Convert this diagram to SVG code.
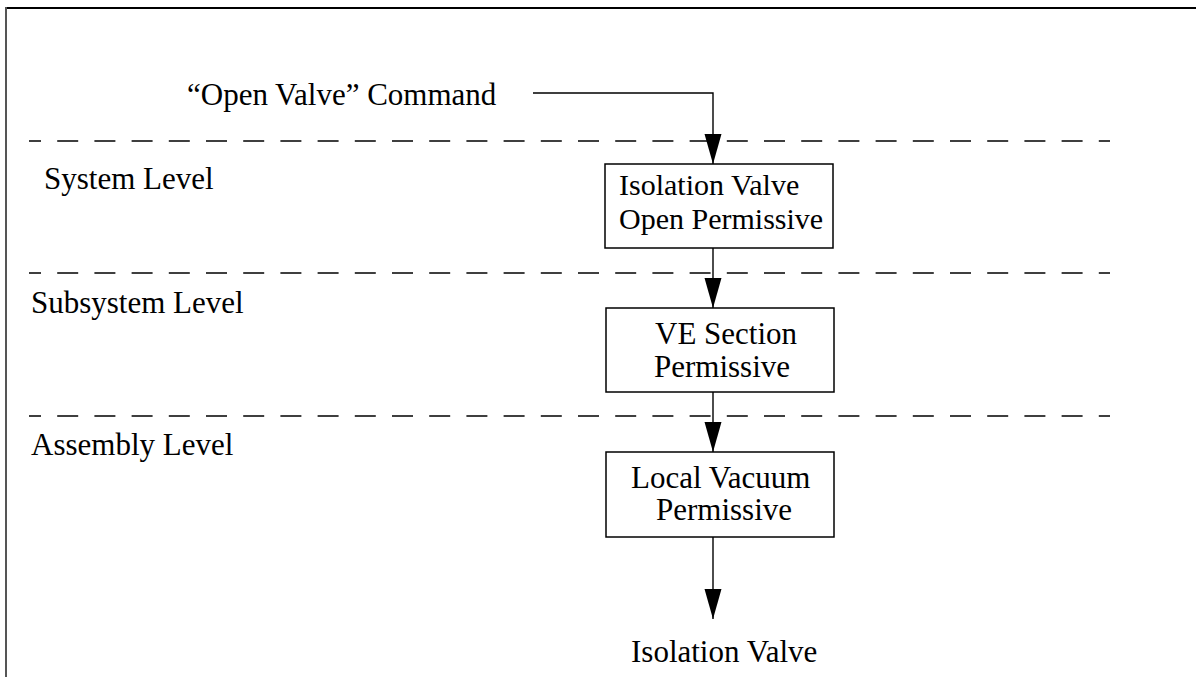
<svg xmlns="http://www.w3.org/2000/svg" width="1196" height="677" viewBox="0 0 1196 677">
<style>
text{font-family:"Liberation Serif","Times New Roman",serif;font-size:31px;fill:#000}
.tight{font-size:30px}
.box{fill:#fff;stroke:#000;stroke-width:1.5}
.dash{stroke:#000;stroke-width:1.5;stroke-dasharray:21 16.2;stroke-dashoffset:9;fill:none}
.conn{stroke:#000;stroke-width:1.4;fill:none;marker-end:url(#ah)}
</style>
<defs>
<marker id="ah" markerUnits="userSpaceOnUse" markerWidth="30" markerHeight="18" viewBox="0 -9 30 18" refX="30" refY="0" orient="auto">
<path d="M0,-8.5 L30,0 L0,8.5 z" fill="#000"/>
</marker>
</defs>
<rect width="1196" height="677" fill="#fff"/>
<g id="frame">
<line x1="5" y1="8" x2="1196" y2="8" stroke="#000" stroke-width="2"/>
<line x1="6" y1="7" x2="6" y2="677" stroke="#555" stroke-width="2"/>
</g>
<g id="levels">
<line class="dash" x1="29" y1="141" x2="1110" y2="141"/>
<line class="dash" x1="29" y1="273" x2="1110" y2="273"/>
<line class="dash" x1="29" y1="416" x2="1110" y2="416"/>
<text x="44" y="189">System Level</text>
<text x="31" y="313">Subsystem Level</text>
<text x="31" y="455">Assembly Level</text>
</g>
<g id="connectors">
<path class="conn" d="M533,93 H713 V164"/>
<path class="conn" d="M713,248 V308"/>
<path class="conn" d="M713,392 V452"/>
<path class="conn" d="M713,537 V619"/>
</g>
<g id="command">
<text x="187" y="105">“Open Valve” Command</text>
</g>
<g id="n1">
<rect class="box" x="605" y="164" width="228" height="84"/>
<text class="tight"><tspan x="619" y="195">Isolation Valve</tspan><tspan x="619" y="229">Open Permissive</tspan></text>
</g>
<g id="n2">
<rect class="box" x="606" y="308" width="228" height="84"/>
<text><tspan x="655" y="344">VE Section</tspan><tspan x="654" y="377">Permissive</tspan></text>
</g>
<g id="n3">
<rect class="box" x="606" y="452" width="228" height="85"/>
<text><tspan x="631" y="488">Local Vacuum</tspan><tspan x="656" y="520">Permissive</tspan></text>
</g>
<g id="target">
<text x="631" y="662">Isolation Valve</text>
</g>
</svg>
